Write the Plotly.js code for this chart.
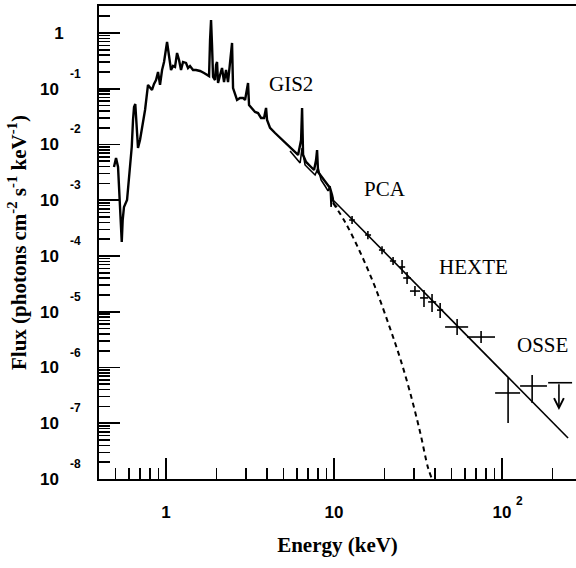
<!DOCTYPE html>
<html><head><meta charset="utf-8">
<script src="https://cdn.plot.ly/plotly-3.0.1.min.js"></script>
<style>html,body{margin:0;padding:0;background:#fff}</style>
</head><body><div id="chart" style="width:576px;height:568px"></div>
<script>
// ---- GIS2 spectrum (keV, photons cm^-2 s^-1 keV^-1) ----
const gisEnergy = [0.490,0.504,0.518,0.522,0.532,0.540,0.545,0.552,0.562,0.586,0.596,0.610,0.625,0.636,0.645,0.656,0.669,0.681,0.700,0.720,0.750,0.781,0.803,0.825,0.848,0.872,0.896,0.921,0.947,0.973,1.014,1.042,1.071,1.101,1.131,1.163,1.195,1.228,1.262,1.315,1.352,1.389,1.448,1.508,1.594,1.683,1.754,1.803,1.828,1.853,1.878,1.905,1.957,1.985,2.012,2.040,2.097,2.154,2.214,2.276,2.339,2.404,2.471,2.505,2.575,2.646,2.757,2.873,2.953,3.035,3.077,3.119,3.250,3.387,3.529,3.678,3.831,3.938,3.993,4.159,4.456,4.772,5.109,5.472,5.861,6.107,6.364,6.452,6.541,6.813,7.197,7.603,7.814,7.923,8.033,8.483,8.963,9.467,9.730,9.863];
const gisFlux = [3.95e-3,5.73e-3,3.95e-3,2.61e-3,7.57e-4,2.59e-4,1.78e-4,4.42e-4,7.57e-4,1.01e-3,1.73e-3,3.49e-3,9.02e-3,2.75e-2,4.71e-2,5.33e-2,2.24e-2,8.65e-3,1.20e-2,1.98e-2,4.16e-2,0.117,0.103,0.095,0.122,0.1435,0.200,0.117,0.217,0.302,0.690,0.403,0.217,0.256,0.2455,0.438,0.328,0.217,0.302,0.290,0.2356,0.256,0.217,0.217,0.208,0.192,0.176,0.169,0.749,1.711,0.609,0.1625,0.1435,0.267,0.302,0.127,0.176,0.236,0.132,0.217,0.132,0.328,0.662,0.103,0.0773,0.0628,0.0682,0.0682,0.0628,0.095,0.127,0.0511,0.0452,0.0383,0.0367,0.0299,0.0299,0.0452,0.0275,0.0198,0.01607,0.01309,0.01064,8.65e-3,7.34e-3,6.48e-3,0.0120,0.0452,6.48e-3,4.86e-3,4.11e-3,3.49e-3,5.27e-3,7.96e-3,3.21e-3,2.61e-3,2.13e-3,1.66e-3,1.24e-3,1.01e-3];

// ---- PCA spectrum ----
const pcaEnergy = [5.472,5.94,6.28,6.452,6.72,7.197,7.71,8.033,8.37,8.84,9.21,9.467,9.60,9.73,10.0,10.42];
const pcaFlux = [7.64e-3,5.73e-3,4.66e-3,8.65e-3,4.29e-3,3.49e-3,2.84e-3,3.79e-3,2.31e-3,1.80e-3,1.47e-3,1.80e-3,7.57e-4,1.19e-3,8.57e-4,7.57e-4];
const pcaPtEnergy = [12.8, 15.9, 19.3, 22.45];
const pcaPtEnergyLo = [12.3, 15.3, 18.5, 21.5];
const pcaPtEnergyHi = [13.3, 16.6, 20.1, 23.4];
const pcaPtFlux = [4.42e-4, 2.38e-4, 1.28e-4, 8.13e-5];
const pcaPtFluxLo = [3.75e-4, 2.0e-4, 1.08e-4, 6.9e-5];
const pcaPtFluxHi = [5.2e-4, 2.8e-4, 1.5e-4, 9.6e-5];

// ---- HEXTE ----
const hexteEnergy = [25.4, 27.2, 30.3, 34.3, 38.3, 42.8, 54.0, 75.0];
const hexteEnergyLo = [24.4, 25.8, 28.3, 32.5, 36.3, 41.0, 45.8, 61.9];
const hexteEnergyHi = [26.5, 28.7, 32.5, 36.3, 40.5, 44.6, 62.8, 90.8];
const hexteFlux = [6.35e-5, 4.03e-5, 2.35e-5, 1.77e-5, 1.50e-5, 1.07e-5, 5.33e-6, 3.52e-6];
const hexteFluxLo = [4.75e-5, 3.15e-5, 1.91e-5, 1.22e-5, 9.9e-6, 7.73e-6, 3.83e-6, 2.75e-6];
const hexteFluxHi = [8.5e-5, 5.15e-5, 2.9e-5, 2.46e-5, 2.08e-5, 1.44e-5, 7.41e-6, 4.52e-6];

// ---- OSSE ----
const osseEnergy = [108.6, 151];
const osseEnergyLo = [90.9, 128];
const osseEnergyHi = [128, 185];
const osseFlux = [3.49e-7, 4.66e-7];
const osseFluxLo = [1.01e-7, 2.31e-7];
const osseFluxHi = [6.48e-7, 7.34e-7];
const osseUlEnergy = [218];
const osseUlEnergyLo = [188];
const osseUlEnergyHi = [261];
const osseUlFlux = [5.33e-7];
const osseUlArrowTo = [1.73e-7];

// ---- models ----
const modelEnergy = [9.86, 24.7, 49.0, 97.3, 247];
const modelFlux = [1.01e-3, 6.12e-5, 7.57e-6, 9.33e-7, 5.43e-8];
const cutoffEnergy = [9.86, 11.63, 14.28, 17.54, 21.5, 24.7, 28.3, 32.5, 36.3, 38.3];
const cutoffFlux = [8.93e-4, 4.07e-4, 1.18e-4, 2.78e-5, 5.12e-6, 1.48e-6, 3.63e-7, 6.97e-8, 1.57e-8, 1e-8];

// ---- ticks & labels ----
const xTickVals = [1, 10, 100];
const xTickText = ['1', '10', '10'];
const xTickExp = ['', '', '2'];
const yTickVals = [1, 1e-1, 1e-2, 1e-3, 1e-4, 1e-5, 1e-6, 1e-7, 1e-8];
const yTickText = ['1', '10&nbsp;', '10&nbsp;', '10&nbsp;', '10&nbsp;', '10&nbsp;', '10&nbsp;', '10&nbsp;', '10&nbsp;'];
const yTickExp = ['', '-1', '-2', '-3', '-4', '-5', '-6', '-7', '-8'];
const instrumentLabels = ['GIS2', 'PCA', 'HEXTE', 'OSSE'];
const labelEnergy = [5.55, 20.1, 67.2, 173];
const labelFlux = [0.124, 1.59e-3, 6.35e-5, 2.53e-6];

const xMinor = [];
[0.1, 1, 10, 100].forEach(d => { for (let m = 2; m <= 9; m++) { const v = m * d; if (v > 0.4 && v < 272) xMinor.push(v); } });
const yMinor = [];
for (let k = -8; k <= 0; k++) { for (let m = 2; m <= 9; m++) { const v = m * Math.pow(10, k); if (v < 3.05) yMinor.push(v); } }

const errX = (c, lo, hi) => ({type: 'data', symmetric: false, array: c.map((v, i) => hi[i] - v), arrayminus: c.map((v, i) => v - lo[i]), color: '#000', thickness: 1.6, width: 0});
const errY = errX;

const BLACK = '#000';
const traces = [
  {x: gisEnergy, y: gisFlux, mode: 'lines', line: {color: BLACK, width: 2.4}, name: 'GIS2', showlegend: false},
  {x: pcaEnergy, y: pcaFlux, mode: 'lines', line: {color: BLACK, width: 1.6}, name: 'PCA', showlegend: false},
  {x: modelEnergy, y: modelFlux, mode: 'lines', line: {color: BLACK, width: 1.6}, name: 'model', showlegend: false},
  {x: cutoffEnergy, y: cutoffFlux, mode: 'lines', line: {color: BLACK, width: 2, dash: '5px,4px', shape: 'spline', smoothing: 1}, name: 'cutoff', showlegend: false},
  {x: pcaPtEnergy, y: pcaPtFlux, mode: 'markers', marker: {size: 1, color: BLACK},
   error_x: errX(pcaPtEnergy, pcaPtEnergyLo, pcaPtEnergyHi), error_y: errY(pcaPtFlux, pcaPtFluxLo, pcaPtFluxHi), showlegend: false},
  {x: hexteEnergy, y: hexteFlux, mode: 'markers', marker: {size: 1, color: BLACK},
   error_x: errX(hexteEnergy, hexteEnergyLo, hexteEnergyHi), error_y: errY(hexteFlux, hexteFluxLo, hexteFluxHi), showlegend: false},
  {x: osseEnergy, y: osseFlux, mode: 'markers', marker: {size: 1, color: BLACK},
   error_x: errX(osseEnergy, osseEnergyLo, osseEnergyHi), error_y: errY(osseFlux, osseFluxLo, osseFluxHi), showlegend: false},
  {x: osseUlEnergy, y: osseUlFlux, mode: 'markers', marker: {size: 1, color: BLACK},
   error_x: errX(osseUlEnergy, osseUlEnergyLo, osseUlEnergyHi), showlegend: false}
];

const tickFont = {family: 'Liberation Sans, Arial, sans-serif', size: 17, weight: 'bold', color: BLACK};
const expFont = {family: 'Liberation Sans, Arial, sans-serif', size: 12, weight: 'bold', color: BLACK};
const serifFont = {family: 'Liberation Serif, Times New Roman, serif', size: 21, color: BLACK};
const titleFont = {family: 'Liberation Serif, Times New Roman, serif', size: 21, weight: 'bold', color: BLACK};

const annotations = [];
yTickVals.forEach((v, i) => { if (yTickExp[i]) annotations.push({xref: 'paper', x: 0, yref: 'y', y: Math.log10(v), text: yTickExp[i], showarrow: false, xanchor: 'center', yanchor: 'middle', xshift: -24, yshift: 15, font: expFont}); });
xTickVals.forEach((v, i) => { if (xTickExp[i]) annotations.push({xref: 'x', x: Math.log10(v), yref: 'paper', y: 0, text: xTickExp[i], showarrow: false, xanchor: 'center', yanchor: 'middle', xshift: 17, yshift: -22, font: expFont}); });
instrumentLabels.forEach((t, i) => annotations.push({xref: 'x', yref: 'y', x: Math.log10(labelEnergy[i]), y: Math.log10(labelFlux[i]), text: t, showarrow: false, xanchor: 'center', yanchor: 'middle', font: serifFont}));
osseUlEnergy.forEach((e, i) => annotations.push({xref: 'x', yref: 'y', axref: 'x', ayref: 'y', x: Math.log10(e), y: Math.log10(osseUlArrowTo[i]), ax: Math.log10(e), ay: Math.log10(osseUlFlux[i]), text: '', showarrow: true, arrowhead: 5, arrowsize: 1.2, arrowwidth: 1.6, arrowcolor: BLACK}));

const axisCommon = {showgrid: false, zeroline: false, showline: true, linewidth: 2, linecolor: BLACK,
  ticks: 'inside', ticklen: 21, tickwidth: 1.6, tickcolor: BLACK, tickfont: tickFont, tickmode: 'array'};

const layout = {
  width: 576, height: 568, margin: {l: 99, r: 0, t: 6, b: 89},
  paper_bgcolor: '#fff', plot_bgcolor: '#fff', showlegend: false,
  xaxis: Object.assign({}, axisCommon, {type: 'log', range: [-0.399, 2.440], mirror: true,
    tickvals: xTickVals, ticktext: xTickText, ticklabelstandoff: 17,
    minor: {tickmode: 'array', tickvals: xMinor, ticks: 'inside', ticklen: 11, tickwidth: 1.6, tickcolor: BLACK, showgrid: false},
    title: {text: 'Energy (keV)', font: titleFont, standoff: 16}}),
  yaxis: Object.assign({}, axisCommon, {type: 'log', range: [-8, 0.484],
    tickvals: yTickVals, ticktext: yTickText, ticklabelstandoff: 30,
    minor: {tickmode: 'array', tickvals: yMinor, ticks: 'inside', ticklen: 11, tickwidth: 1.6, tickcolor: BLACK, showgrid: false},
    title: {text: 'Flux (photons cm<sup>-2</sup> s<sup>-1</sup> keV<sup>-1</sup>)', font: titleFont, standoff: 8}}),
  annotations: annotations
};

Plotly.newPlot('chart', traces, layout, {displayModeBar: false, staticPlot: true});
</script></body></html>
